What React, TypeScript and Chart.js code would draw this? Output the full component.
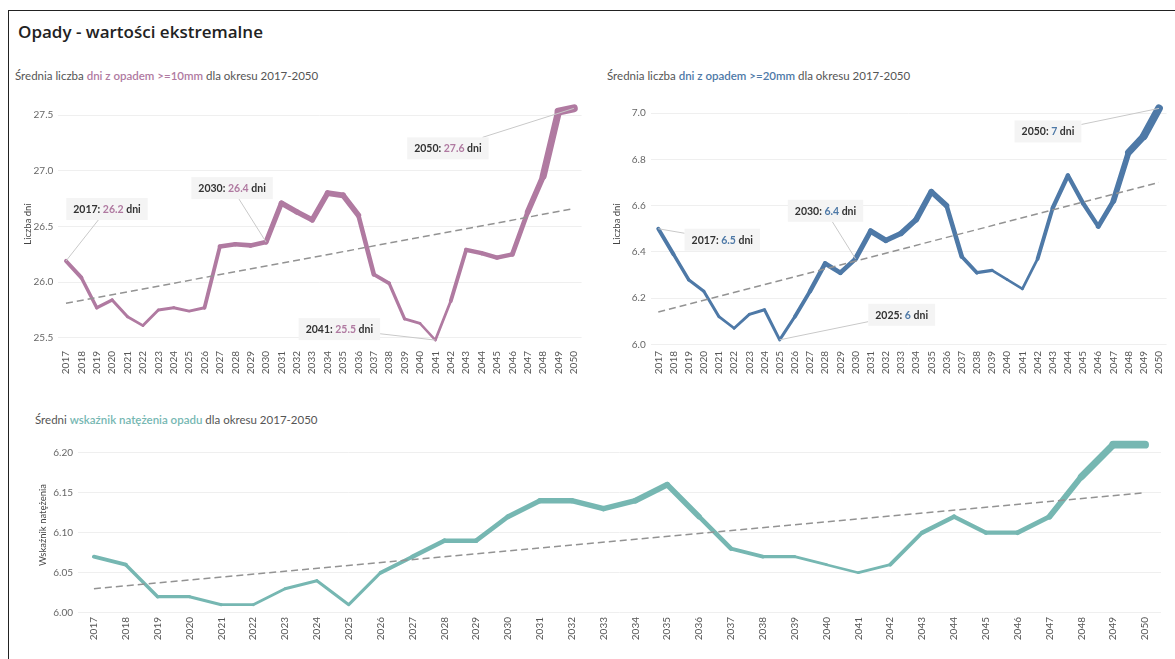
import React, { useEffect, useRef } from "react";
import { Chart, registerables } from "chart.js";
Chart.register(...registerables);

const FONT = "Lato, 'Open Sans', sans-serif";

const years = ["2017","2018","2019","2020","2021","2022","2023","2024","2025","2026","2027","2028","2029","2030","2031","2032","2033","2034","2035","2036","2037","2038","2039","2040","2041","2042","2043","2044","2045","2046","2047","2048","2049","2050"];

const days10mm = [26.19,26.04,25.77,25.84,25.69,25.61,25.75,25.77,25.74,25.77,26.32,26.34,26.33,26.36,26.71,26.63,26.56,26.80,26.78,26.60,26.07,25.99,25.67,25.63,25.48,25.83,26.29,26.26,26.22,26.25,26.63,26.95,27.53,27.56];
const days20mm = [6.50,6.39,6.28,6.23,6.12,6.07,6.13,6.15,6.02,6.12,6.23,6.35,6.31,6.37,6.49,6.45,6.48,6.54,6.66,6.60,6.38,6.31,6.32,6.28,6.24,6.37,6.59,6.73,6.61,6.51,6.62,6.83,6.90,7.02];
const intensity = [6.07,6.06,6.02,6.02,6.01,6.01,6.03,6.04,6.01,6.05,6.07,6.09,6.09,6.12,6.14,6.14,6.13,6.14,6.16,6.12,6.08,6.07,6.07,6.06,6.05,6.06,6.10,6.12,6.10,6.10,6.12,6.17,6.21,6.21];

const trend10mm = [25.81, 26.66];
const trend20mm = [6.14, 6.70];
const trendIntensity = [6.03, 6.15];

const ticks10mm = [25.5, 26.0, 26.5, 27.0, 27.5];
const ticks20mm = [6.0, 6.2, 6.4, 6.6, 6.8, 7.0];
const ticksIntensity = [6.0, 6.05, 6.1, 6.15, 6.2];

const callouts10mm = [
  { year: "2017", dx: 41, dy: -52 },
  { year: "2030", dx: -34, dy: -54 },
  { year: "2041", dx: -96, dy: -11 },
  { year: "2050", dx: -126, dy: 40 },
];
const callouts20mm = [
  { year: "2017", dx: 64, dy: 11 },
  { year: "2030", dx: -30, dy: -48 },
  { year: "2025", dx: 122, dy: -25 },
  { year: "2050", dx: -111, dy: 23 },
];

const PURPLE = "#b07aa1";
const BLUE = "#4e79a7";
const TEAL = "#76b7b2";

// line thickness follows the shared size measure (days >= 10mm)
const sizeMin = 25.45, sizeMax = 27.6;
function widthAt(i: number) {
  return 2.2 + ((days10mm[i] - sizeMin) / (sizeMax - sizeMin)) * 5.8;
}

function fmtVal(v: number) {
  const s = v.toFixed(1);
  return s.endsWith(".0") ? s.slice(0, -2) : s;
}

function makeCalloutPlugin(values: number[], callouts: { year: string; dx: number; dy: number }[], color: string) {
  return {
    id: "callouts",
    afterDraw(chart: any) {
      const { ctx } = chart;
      const xs = chart.scales.x, ys = chart.scales.y;
      ctx.save();
      ctx.font = `bold 10.5px ${FONT}`;
      for (const c of callouts) {
        const i = years.indexOf(c.year);
        const px = xs.getPixelForValue(i);
        const py = ys.getPixelForValue(values[i]);
        const parts = [
          { t: c.year + ": ", col: "#333" },
          { t: fmtVal(values[i]), col: color },
          { t: " dni", col: "#333" },
        ];
        const tw = parts.reduce((s, p) => s + ctx.measureText(p.t).width, 0);
        const w = tw + 14, h = 22;
        const cx = px + c.dx, cy = py + c.dy;
        const dx = cx - px, dy = cy - py;
        const t = Math.min(dx ? (w / 2) / Math.abs(dx) : Infinity, dy ? (h / 2) / Math.abs(dy) : Infinity);
        const ex = cx - dx * t, ey = cy - dy * t;
        ctx.strokeStyle = "#c9c9c9";
        ctx.lineWidth = 1;
        ctx.beginPath();
        ctx.moveTo(px, py);
        ctx.lineTo(ex, ey);
        ctx.stroke();
        ctx.fillStyle = "rgba(243,243,243,0.95)";
        ctx.fillRect(cx - w / 2, cy - h / 2, w, h);
        let x = cx - tw / 2;
        ctx.textBaseline = "middle";
        for (const p of parts) {
          ctx.fillStyle = p.col;
          ctx.fillText(p.t, x, cy + 0.5);
          x += ctx.measureText(p.t).width;
        }
      }
      ctx.restore();
    },
  };
}

type Props = {
  left: number; top: number; width: number; height: number;
  values: number[]; trend: number[]; color: string; ticks: number[]; decimals: number;
  yTitle: string; min: number; max: number;
  pad: { left: number; top: number; right: number }; axisWidth: number; xAxisHeight: number;
  callouts: { year: string; dx: number; dy: number }[];
};

function LineChart(p: Props) {
  const ref = useRef<HTMLCanvasElement>(null);
  useEffect(() => {
    if (!ref.current) return;
    const chart = new Chart(ref.current, {
      type: "line",
      data: {
        labels: years,
        datasets: [
          {
            data: [{ x: years[0], y: p.trend[0] }, { x: years[years.length - 1], y: p.trend[1] }] as any,
            borderColor: "#939393",
            borderWidth: 1.5,
            borderDash: [7, 4],
            pointRadius: 0,
            tension: 0,
          },
          {
            data: p.values,
            borderColor: p.color,
            borderWidth: 3,
            pointRadius: 0,
            tension: 0,
            borderCapStyle: "round",
            borderJoinStyle: "round",
            segment: {
              borderWidth: (ctx: any) => (widthAt(ctx.p0DataIndex) + widthAt(ctx.p1DataIndex)) / 2,
            },
          } as any,
        ],
      },
      options: {
        animation: false,
        responsive: false,
        layout: { padding: { left: p.pad.left, top: p.pad.top, right: p.pad.right, bottom: 0 } },
        plugins: { legend: { display: false }, tooltip: { enabled: false } },
        scales: {
          x: {
            offset: true,
            grid: { display: false, drawTicks: false },
            border: { display: false },
            ticks: {
              autoSkip: false, maxRotation: 90, minRotation: 90,
              font: { family: FONT, size: 10 }, color: "#555", padding: 4,
            },
            afterFit: (s: any) => { s.height = p.xAxisHeight; },
          },
          y: {
            min: p.min, max: p.max,
            grid: { color: "#efefef", drawTicks: false },
            border: { display: false },
            ticks: {
              font: { family: FONT, size: 10 }, color: "#666", padding: 5,
              callback: (v: any) => Number(v).toFixed(p.decimals),
            },
            afterBuildTicks: (s: any) => { s.ticks = p.ticks.map((v) => ({ value: v })); },
            afterFit: (s: any) => { s.width = p.axisWidth; },
            title: { display: true, text: p.yTitle, font: { family: FONT, size: 9.5 }, color: "#444" },
          },
        },
      },
      plugins: p.callouts.length ? [makeCalloutPlugin(p.values, p.callouts, p.color) as any] : [],
    });
    return () => chart.destroy();
  }, []);
  return (
    <canvas
      ref={ref}
      width={p.width}
      height={p.height}
      style={{ position: "absolute", left: p.left, top: p.top, width: p.width, height: p.height }}
    />
  );
}

function Subtitle({ left, top, pre, mid, post, color }: any) {
  return (
    <div style={{ position: "absolute", left, top, fontFamily: FONT, fontSize: 11.5, lineHeight: "16px", color: "#555", whiteSpace: "nowrap" }}>
      {pre}<span style={{ color, fontWeight: 600 }}>{mid}</span>{post}
    </div>
  );
}

export default function App() {
  return (
    <div style={{ position: "fixed", left: 0, top: 0, width: 1175, height: 659, background: "#fff", overflow: "hidden" }}>
      <div style={{ position: "absolute", left: 8, top: 10, width: 1200, height: 700, borderLeft: "1px solid #222", borderTop: "1px solid #222" }} />
      <div style={{ position: "absolute", left: 18, top: 22, fontFamily: "'Open Sans', sans-serif", fontSize: 17, fontWeight: 600, lineHeight: "20px", color: "#222", whiteSpace: "nowrap" }}>
        Opady - wartości ekstremalne
      </div>
      <Subtitle left={15} top={68} pre="Średnia liczba " mid="dni z opadem >=10mm" post=" dla okresu 2017-2050" color={PURPLE} />
      <Subtitle left={607} top={68} pre="Średnia liczba " mid="dni z opadem >=20mm" post=" dla okresu 2017-2050" color={BLUE} />
      <Subtitle left={35} top={412} pre="Średni " mid="wskaźnik natężenia opadu" post=" dla okresu 2017-2050" color={TEAL} />
      <LineChart left={10} top={90} width={580} height={290} values={days10mm} trend={trend10mm} color={PURPLE}
        ticks={ticks10mm} decimals={1} yTitle="Liczba dni" min={25.418} max={27.626}
        pad={{ left: 8, top: 7, right: 8.3 }} axisWidth={40.3} xAxisHeight={33} callouts={callouts10mm} />
      <LineChart left={600} top={90} width={575} height={290} values={days20mm} trend={trend20mm} color={BLUE}
        ticks={ticks20mm} decimals={1} yTitle="Liczba dni" min={5.989} max={7.052}
        pad={{ left: 7.6, top: 7, right: 3.4 }} axisWidth={43.1} xAxisHeight={33} callouts={callouts20mm} />
      <LineChart left={10} top={425} width={1165} height={220} values={intensity} trend={trendIntensity} color={TEAL}
        ticks={ticksIntensity} decimals={2} yTitle="Wskaźnik natężenia" min={5.9996} max={6.2196}
        pad={{ left: 23.6, top: 12, right: 14 }} axisWidth={44.4} xAxisHeight={32} callouts={[]} />
    </div>
  );
}
